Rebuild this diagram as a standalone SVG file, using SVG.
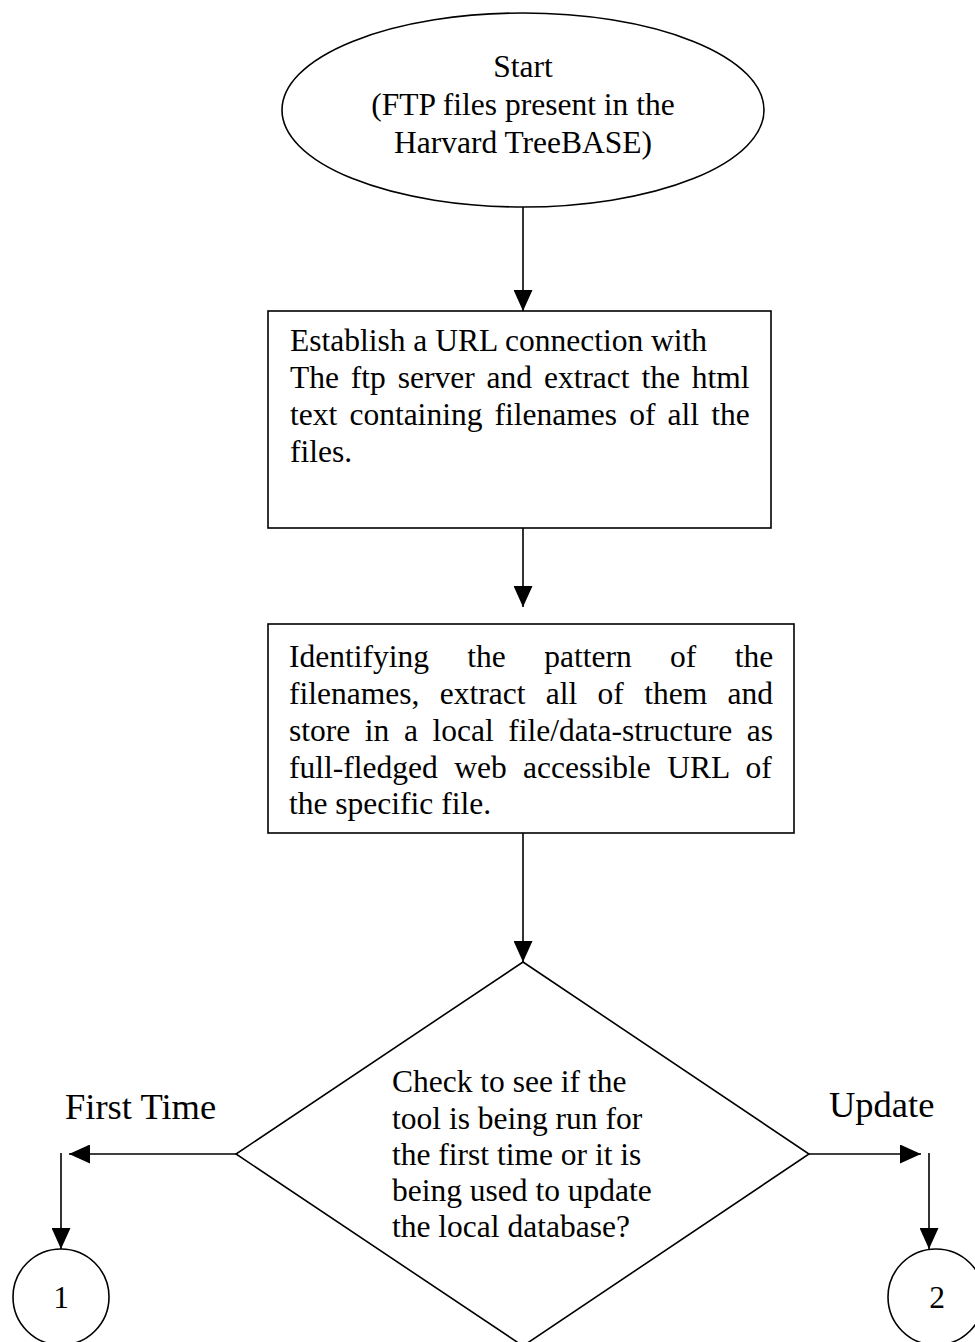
<svg xmlns="http://www.w3.org/2000/svg" width="975" height="1342" viewBox="0 0 975 1342">
<style>
.shape{fill:#fff;stroke:#000;stroke-width:1.6}
.t{font-family:"Liberation Serif","Times New Roman",serif;font-size:31.5px;fill:#000}
.c{text-anchor:middle}
.lbl{font-family:"Liberation Serif","Times New Roman",serif;font-size:36.5px;fill:#000}
.conn{fill:none;stroke:#000;stroke-width:1.6}
</style>
<defs>
<marker id="ah" markerUnits="userSpaceOnUse" markerWidth="21" markerHeight="19" refX="21" refY="9.5" orient="auto">
<path d="M0,0 L21,9.5 L0,19 z" fill="#000"/>
</marker>
</defs>
<rect width="975" height="1342" fill="#fff"/>
<g id="start">
<ellipse class="shape" cx="523" cy="110" rx="241" ry="97"/>
<text class="t c" x="523" y="77">Start</text>
<text class="t c" x="523" y="115">(FTP files present in the</text>
<text class="t c" x="523" y="153">Harvard TreeBASE)</text>
</g>
<g id="connect">
<rect class="shape" x="268" y="311" width="503" height="217"/>
<text class="t" x="290" y="351">Establish a URL connection with</text>
<text class="t" x="290" y="388" word-spacing="4">The ftp server and extract the html</text>
<text class="t" x="290" y="425" word-spacing="4.3">text containing filenames of all the</text>
<text class="t" x="290" y="462">files.</text>
</g>
<g id="identify">
<rect class="shape" x="268" y="624" width="526" height="209"/>
<text class="t" x="289" y="667" word-spacing="30.5">Identifying the pattern of the</text>
<text class="t" x="289" y="704" word-spacing="12.5">filenames, extract all of them and</text>
<text class="t" x="289" y="741" word-spacing="6.7">store in a local file/data-structure as</text>
<text class="t" x="289" y="778" word-spacing="8.6">full-fledged web accessible URL of</text>
<text class="t" x="289" y="814">the specific file.</text>
</g>
<g id="decision">
<polygon class="shape" points="523,962 809,1154 523,1346 236,1154"/>
<text class="t" x="392" y="1092">Check to see if the</text>
<text class="t" x="392" y="1129">tool is being run for</text>
<text class="t" x="392" y="1165">the first time or it is</text>
<text class="t" x="392" y="1201">being used to update</text>
<text class="t" x="392" y="1237">the local database?</text>
</g>
<g id="label-first">
<text class="lbl" x="65" y="1119">First Time</text>
</g>
<g id="label-update">
<text class="lbl" x="829" y="1117">Update</text>
</g>
<g id="conn1">
<circle class="shape" cx="61" cy="1297" r="48"/>
<text class="t c" x="61" y="1308">1</text>
</g>
<g id="conn2">
<circle class="shape" cx="936" cy="1297" r="48"/>
<text class="t c" x="937" y="1308">2</text>
</g>
<g id="connectors">
<line class="conn" x1="523" y1="207" x2="523" y2="311" marker-end="url(#ah)"/>
<line class="conn" x1="523" y1="528" x2="523" y2="607" marker-end="url(#ah)"/>
<line class="conn" x1="523" y1="833" x2="523" y2="962" marker-end="url(#ah)"/>
<line class="conn" x1="236" y1="1154" x2="69" y2="1154" marker-end="url(#ah)"/>
<line class="conn" x1="809" y1="1154" x2="921" y2="1154" marker-end="url(#ah)"/>
<line class="conn" x1="61" y1="1153" x2="61" y2="1249" marker-end="url(#ah)"/>
<line class="conn" x1="929" y1="1153" x2="929" y2="1249" marker-end="url(#ah)"/>
</g>
</svg>
